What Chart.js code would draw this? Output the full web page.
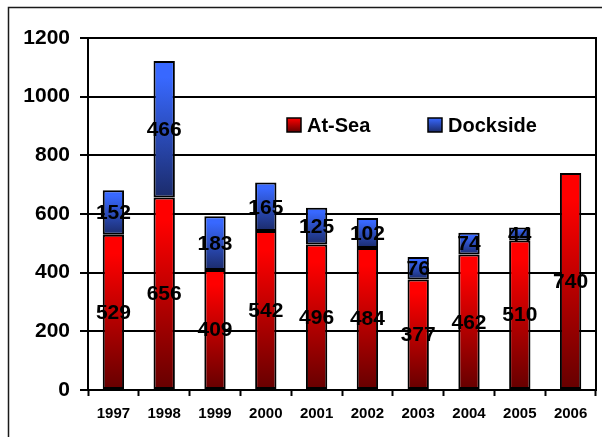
<!DOCTYPE html>
<html>
<head>
<meta charset="utf-8">
<script src="https://cdn.jsdelivr.net/npm/chart.js@4/dist/chart.umd.min.js"></script>
<style>
  html, body { margin: 0; padding: 0; background: #ffffff; }
  #wrap { position: relative; width: 602px; height: 437px; }
  canvas { display: block; }
</style>
</head>
<body>
<div id="wrap"><canvas id="c" width="602" height="437"></canvas></div>
<script>
// Observer coverage by year: at-sea and dockside counts
const years = ['1997','1998','1999','2000','2001','2002','2003','2004','2005','2006'];
const atSea = [529, 656, 409, 542, 496, 484, 377, 462, 510, 740];
const dockside = [152, 466, 183, 165, 125, 102, 76, 74, 44, null];
const yTicks = [0, 200, 400, 600, 800, 1000, 1200];
const seriesNames = ['At-Sea', 'Dockside'];

const FONT = '"Liberation Sans", Arial, sans-serif';

// vertical gradient spanning one stacked segment
function segmentGradient(ctx, palette) {
  const chart = ctx.chart;
  const y = chart.scales.y;
  if (!chart.chartArea || !y || ctx.dataIndex === undefined) return palette[0];
  const i = ctx.dataIndex;
  let base = 0, top = 0;
  if (ctx.datasetIndex === 0) { top = atSea[i]; }
  else { base = atSea[i]; top = atSea[i] + (dockside[i] || 0); }
  const yTop = y.getPixelForValue(top);
  const yBot = y.getPixelForValue(base);
  if (!isFinite(yTop) || !isFinite(yBot) || yTop === yBot) return palette[0];
  const g = chart.ctx.createLinearGradient(0, yTop, 0, yBot);
  g.addColorStop(0, palette[0]);
  g.addColorStop(0.12, palette[0]);
  g.addColorStop(1, palette[1]);
  return g;
}
const RED = ['#ff0000', '#650000'];
const BLUE = ['#3868ff', '#1b2b6a'];

// outer frame, plot frame, legend and value labels
const decor = {
  id: 'decor',
  beforeDraw(chart) {
    const c = chart.ctx;
    c.save();
    c.fillStyle = '#ffffff';
    c.fillRect(0, 0, chart.width, chart.height);
    c.strokeStyle = '#1a1a1a';
    c.lineWidth = 1.5;
    c.strokeRect(8.5, 7.5, chart.width + 20, chart.height + 20);
    c.restore();
  },
  afterDatasetsDraw(chart) {
    const c = chart.ctx;
    const a = chart.chartArea;
    c.save();
    c.strokeStyle = '#000';
    c.lineWidth = 2;
    c.beginPath();
    c.moveTo(a.left, a.top);
    c.lineTo(a.right, a.top);
    c.lineTo(a.right, a.bottom);
    c.stroke();

    // value labels centred in each segment
    c.font = 'bold 21px ' + FONT;
    c.fillStyle = '#000';
    c.textAlign = 'center';
    c.textBaseline = 'middle';
    chart.data.datasets.forEach((ds, di) => {
      const meta = chart.getDatasetMeta(di);
      meta.data.forEach((bar, i) => {
        const v = ds.data[i];
        if (v === null || v === undefined) return;
        const mid = (bar.y + bar.base) / 2;
        c.fillText(String(v), bar.x, mid + 1);
      });
    });

    // legend
    const items = [
      { name: seriesNames[0], pal: RED, x: 287 },
      { name: seriesNames[1], pal: BLUE, x: 428 }
    ];
    const ly = 125;
    c.font = 'bold 20px ' + FONT;
    c.textAlign = 'left';
    items.forEach(it => {
      const g = c.createLinearGradient(0, ly - 7, 0, ly + 7);
      g.addColorStop(0, it.pal[0]);
      g.addColorStop(1, it.pal[1]);
      c.fillStyle = g;
      c.fillRect(it.x, ly - 7, 14, 14);
      c.lineWidth = 1.5;
      c.strokeStyle = '#000';
      c.strokeRect(it.x, ly - 7, 14, 14);
      c.fillStyle = '#000';
      c.fillText(it.name, it.x + 20, ly + 1);
    });
    c.restore();
  }
};

new Chart(document.getElementById('c'), {
  type: 'bar',
  data: {
    labels: years,
    datasets: [
      {
        label: seriesNames[0],
        data: atSea,
        backgroundColor: ctx => segmentGradient(ctx, RED),
        borderColor: '#000',
        borderWidth: 2,
        borderSkipped: false,
        categoryPercentage: 1,
        barPercentage: 0.42
      },
      {
        label: seriesNames[1],
        data: dockside,
        backgroundColor: ctx => segmentGradient(ctx, BLUE),
        borderColor: '#000',
        borderWidth: 2,
        borderSkipped: false,
        categoryPercentage: 1,
        barPercentage: 0.42
      }
    ]
  },
  options: {
    responsive: false,
    animation: false,
    devicePixelRatio: 1,
    layout: { padding: { top: 38, right: 6, left: 0, bottom: 0 } },
    plugins: {
      legend: { display: false },
      tooltip: { enabled: false }
    },
    scales: {
      x: {
        stacked: true,
        grid: {
          offset: true,
          drawOnChartArea: false,
          drawTicks: true,
          tickLength: 6,
          tickColor: '#000',
          tickWidth: 2
        },
        border: { color: '#000', width: 2 },
        ticks: {
          color: '#000',
          font: { family: FONT, size: 15, weight: 'bold' },
          padding: 9,
          maxRotation: 0
        },
        afterFit(s) { s.height = 47; }
      },
      y: {
        stacked: true,
        min: 0,
        max: 1200,
        afterBuildTicks(s) { s.ticks = yTicks.map(v => ({ value: v })); },
        grid: {
          color: '#000',
          lineWidth: 2,
          drawTicks: true,
          tickLength: 8,
          tickColor: '#000'
        },
        border: { color: '#000', width: 2 },
        ticks: {
          color: '#000',
          font: { family: FONT, size: 21, weight: 'bold' },
          padding: 10,
          callback: v => String(v)
        },
        afterFit(s) { s.width = 88; }
      }
    }
  },
  plugins: [decor]
});
</script>
</body>
</html>
